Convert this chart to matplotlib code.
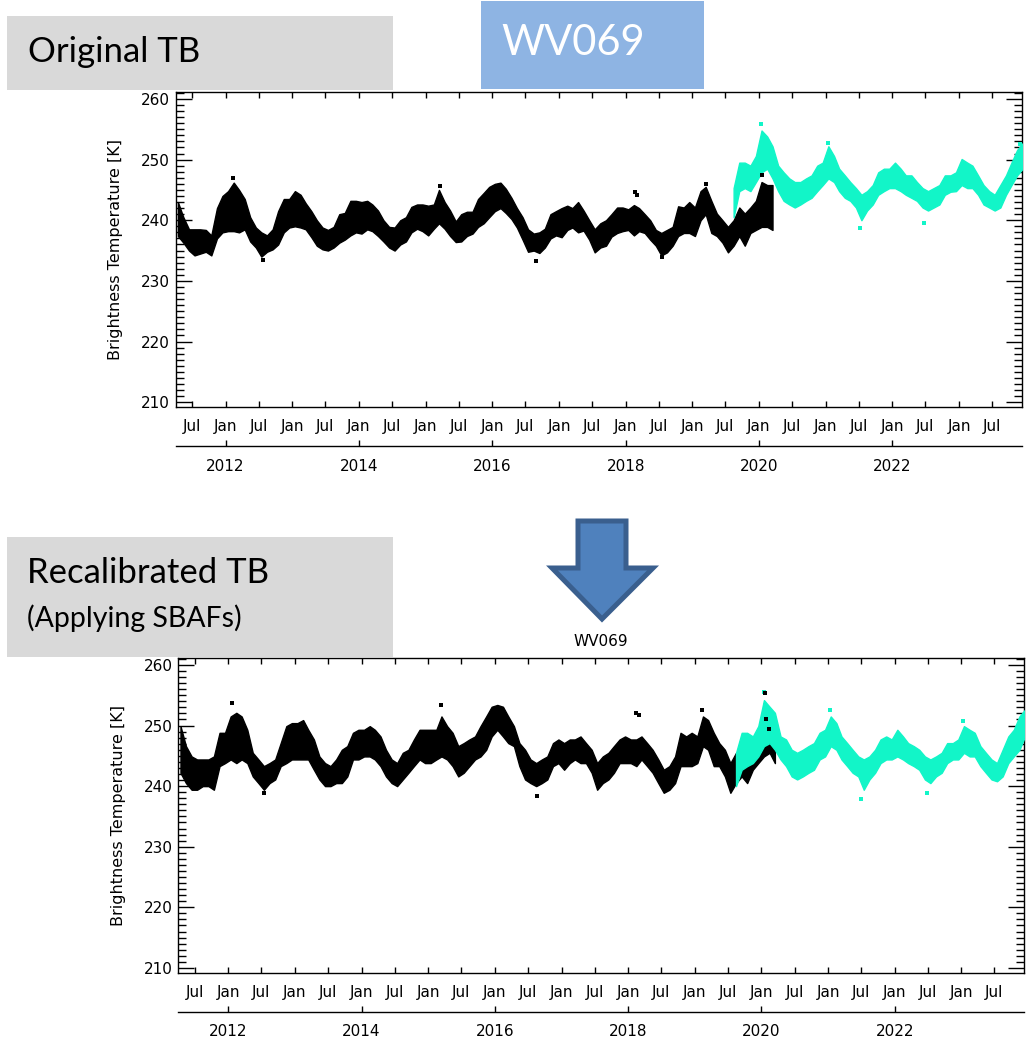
import numpy as np
import pandas as pd
import matplotlib
matplotlib.use("Agg")
import matplotlib.pyplot as plt
import matplotlib.dates as mdates
from matplotlib.patches import Rectangle, Polygon
from matplotlib.ticker import MultipleLocator, NullLocator

W, H = 1033, 1040

# monthly lower / upper edge of the daily point cloud (K)
# black series starts Apr 2011, cyan series starts Aug 2019
top_black_lo = [
    237.4, 236.3, 235.0, 234.2, 234.5, 234.8, 234.2, 237.0, 238.0,
    238.2, 238.2, 238.0, 238.5, 236.5, 235.5, 234.0, 234.8, 235.2, 236.0, 238.0, 238.8,
    239.0, 238.8, 238.5, 237.2, 235.8, 235.2, 235.0, 235.5, 236.3, 236.8, 237.5, 238.0,
    237.8, 238.5, 238.2, 237.4, 236.5, 235.5, 235.0, 236.0, 236.5, 238.0, 238.6, 238.2,
    237.5, 238.6, 239.5, 238.6, 237.4, 236.4, 236.5, 237.4, 237.8, 238.9, 239.5, 240.5,
    241.5, 242.0, 241.2, 240.2, 238.8, 236.8, 234.8, 235.0, 234.6, 235.5, 237.0, 237.5,
    237.2, 238.4, 238.8, 238.0, 238.3, 236.8, 234.7, 235.5, 235.8, 237.3, 237.9, 238.2,
    238.4, 237.5, 238.2, 237.9, 236.8, 235.8, 234.2, 234.7, 235.8, 237.4, 237.9, 237.9,
    237.4, 240.0, 241.0, 237.9, 237.4, 236.3, 234.7, 235.8, 237.4, 235.8, 237.9, 238.4,
    238.9, 238.9, 238.4,
]
top_black_hi = [
    243.0, 240.5, 238.5, 238.5, 238.5, 238.4, 237.5, 242.0, 244.0,
    244.8, 246.2, 245.0, 243.5, 240.5, 238.8, 238.0, 237.5, 238.5, 241.5, 243.5, 243.5,
    244.8, 244.2, 242.8, 241.5, 240.0, 238.8, 238.4, 238.9, 241.0, 241.2, 243.2, 243.2,
    243.0, 243.2, 242.6, 241.6, 240.0, 238.9, 238.8, 240.0, 240.5, 242.2, 242.6, 242.6,
    242.4, 242.6, 245.0, 243.0, 241.6, 239.8, 241.0, 241.4, 241.4, 243.5, 244.5, 245.5,
    246.0, 246.2, 245.2, 243.7, 242.0, 240.5, 238.5, 237.8, 238.0, 238.6, 241.0, 241.5,
    242.0, 242.4, 242.0, 243.0, 241.6, 240.0, 238.5, 239.5, 240.0, 241.0, 242.1, 242.1,
    241.8, 242.5, 242.0, 241.0, 240.0, 238.4, 237.9, 238.4, 238.9, 242.3, 242.1, 243.0,
    242.1, 244.8, 245.5, 243.2, 241.1, 240.0, 238.9, 240.0, 242.1, 241.1, 242.1, 243.2,
    246.3, 245.8, 245.8,
]
top_cyan_lo = [
    240.5, 244.8, 245.3, 244.8, 246.3,
    247.9, 248.5, 246.9, 244.8, 243.2, 242.6, 242.1, 242.6, 243.2, 243.7, 244.8, 245.8,
    246.9, 246.3, 244.8, 243.7, 243.2, 242.1, 240.0, 241.6, 242.6, 244.2, 244.8, 245.3,
    245.3, 244.8, 244.2, 243.7, 243.2, 242.1, 241.6, 242.1, 242.6, 244.2, 244.7, 244.8,
    245.8, 245.3, 245.3, 244.2, 242.6, 242.1, 241.6, 242.1, 244.2, 245.8, 247.4, 248.5,
]
top_cyan_hi = [
    245.3, 249.5, 249.5, 249.0, 250.6,
    254.8, 253.8, 252.2, 249.0, 247.9, 246.9, 246.3, 246.3, 246.9, 247.4, 249.0, 249.5,
    252.2, 250.6, 248.5, 247.4, 246.3, 245.3, 244.2, 244.8, 245.8, 247.9, 248.5, 248.5,
    249.5, 248.5, 247.4, 247.4, 246.3, 245.3, 244.8, 245.3, 245.8, 247.4, 247.4, 247.9,
    250.1, 249.5, 249.0, 247.4, 245.8, 244.8, 244.2, 245.8, 247.4, 249.5, 251.6, 252.7,
]

bot_black_lo = [
    242.2, 240.5, 239.4, 239.4, 240.0, 240.0, 239.4, 243.3, 243.8,
    244.4, 243.8, 244.4, 243.8, 241.6, 240.5, 239.4, 240.5, 241.1, 243.3, 243.8, 244.4,
    244.4, 244.4, 244.4, 242.7, 241.1, 240.0, 240.0, 240.5, 240.5, 241.6, 244.4, 244.4,
    244.9, 244.9, 244.4, 243.3, 241.6, 240.5, 240.0, 241.1, 242.2, 243.3, 244.4, 243.8,
    243.8, 244.4, 244.9, 244.4, 243.3, 241.6, 242.2, 243.3, 244.4, 244.9, 246.0, 248.2,
    249.3, 248.2, 247.1, 246.6, 243.3, 241.1, 240.5, 240.0, 240.5, 241.1, 243.3, 243.8,
    242.7, 243.8, 244.4, 243.8, 243.8, 242.2, 239.4, 240.5, 241.1, 242.2, 243.8, 243.8,
    243.8, 243.3, 244.4, 243.3, 242.2, 240.5, 238.9, 239.4, 240.5, 243.3, 243.3, 243.3,
    243.8, 246.6, 246.0, 243.3, 243.3, 241.6, 238.9, 240.5, 241.6, 240.5, 242.7, 243.8,
    244.9, 245.5, 243.8,
]
bot_black_hi = [
    249.9, 246.6, 244.9, 244.4, 244.4, 244.4, 244.9, 248.8, 248.8,
    251.5, 252.1, 251.5, 249.3, 245.5, 244.4, 243.3, 243.8, 244.4, 247.1, 249.9, 250.4,
    250.4, 250.9, 249.3, 247.7, 244.9, 243.8, 243.3, 244.4, 246.0, 246.6, 248.8, 249.3,
    249.3, 249.9, 249.3, 248.2, 246.0, 244.4, 243.8, 245.5, 246.0, 247.7, 249.3, 249.3,
    249.3, 249.3, 251.5, 249.9, 248.8, 246.6, 247.1, 247.7, 248.2, 249.9, 251.5, 253.1,
    253.4, 253.1, 251.5, 249.9, 247.1, 246.0, 244.4, 243.8, 244.4, 244.9, 247.1, 247.7,
    247.1, 247.7, 247.7, 248.2, 247.1, 246.0, 243.8, 244.9, 245.5, 246.6, 247.7, 248.2,
    247.7, 247.7, 248.2, 247.1, 246.0, 244.4, 242.7, 243.3, 244.9, 248.8, 248.2, 248.8,
    248.2, 251.5, 250.9, 248.8, 247.1, 246.0, 243.8, 245.5, 246.0, 246.0, 246.6, 247.7,
    253.7, 252.6, 251.5,
]
bot_cyan_lo = [
    240.0, 242.7, 243.3, 243.8, 244.9,
    246.6, 247.1, 246.0, 244.4, 243.3, 241.6, 241.1, 241.6, 242.2, 242.7, 244.4, 244.9,
    246.6, 246.0, 244.4, 243.3, 242.2, 241.6, 239.4, 241.1, 242.2, 243.8, 244.4, 244.4,
    244.9, 244.4, 243.8, 243.3, 242.7, 241.1, 240.5, 241.6, 242.2, 243.8, 244.4, 244.4,
    245.5, 244.9, 244.9, 243.3, 242.2, 241.1, 240.8, 241.6, 243.8, 244.9, 246.0, 248.2,
]
bot_cyan_hi = [
    245.5, 248.8, 248.8, 248.2, 249.9,
    254.2, 253.1, 252.1, 248.2, 247.7, 246.0, 245.5, 246.0, 246.6, 247.1, 248.8, 249.3,
    251.5, 250.4, 248.2, 247.1, 246.0, 244.9, 244.4, 244.9, 246.0, 247.7, 248.2, 247.7,
    249.3, 248.2, 247.1, 246.6, 246.0, 244.9, 244.4, 244.9, 245.5, 247.1, 247.1, 247.7,
    249.9, 249.3, 248.8, 246.6, 245.5, 244.4, 243.8, 246.0, 248.2, 249.3, 251.5, 252.6,
]

# isolated points sticking out of the band
top_black_spike_dates = ["2012-02-10", "2012-07-25", "2015-03-20", "2016-08-25",
                         "2018-02-20", "2018-03-05", "2018-07-20", "2019-03-15", "2020-01-20"]
top_black_spike_vals = [246.9, 233.5, 245.6, 233.2, 244.7, 244.2, 233.9, 246.0, 247.5]
top_cyan_spike_dates = ["2020-01-10", "2021-01-15", "2021-07-05", "2022-06-25", "2023-12-01"]
top_cyan_spike_vals = [255.9, 252.7, 238.7, 239.5, 252.5]
bot_black_spike_dates = ["2012-01-20", "2012-07-15", "2015-03-15", "2016-08-20",
                         "2018-02-15", "2018-03-01", "2019-02-10", "2020-01-20",
                         "2020-01-28", "2020-02-10"]
bot_black_spike_vals = [253.7, 238.9, 253.4, 238.3, 252.1, 251.8, 252.6, 255.3, 251.0, 249.5]
bot_cyan_spike_dates = ["2020-01-15", "2021-01-10", "2021-07-01", "2022-06-25", "2023-01-10"]
bot_cyan_spike_vals = [255.6, 252.6, 237.8, 238.9, 250.7]

year_ticks = ["2012", "2014", "2016", "2018", "2020", "2022"]

BLACK = "black"
CYAN = "#12f5c8"


def months(start, n):
    return pd.date_range(start, periods=n, freq="MS") + pd.Timedelta(days=14)


def draw_panel(ax, b_lo, b_hi, c_lo, c_hi, b_sd, b_sv, c_sd, c_sv):
    bx = months("2011-04-01", len(b_lo))
    cx = months("2019-08-01", len(c_lo))
    ax.fill_between(bx, b_lo, b_hi, color=BLACK, linewidth=1.0, zorder=2)
    ax.fill_between(cx, c_lo, c_hi, color=CYAN, linewidth=1.0, zorder=3)
    ax.scatter(pd.to_datetime(c_sd), c_sv, s=6, marker="s", color=CYAN, linewidths=0, zorder=4)
    ax.scatter(pd.to_datetime(b_sd), b_sv, s=6, marker="s", color=BLACK, linewidths=0, zorder=5)

    ax.set_xlim(pd.Timestamp("2011-04-03"), pd.Timestamp("2023-12-10"))
    ax.set_ylim(209.2, 261.1)
    ax.yaxis.set_major_locator(MultipleLocator(10))
    ax.yaxis.set_minor_locator(MultipleLocator(1))
    ax.tick_params(axis="y", which="major", direction="in", length=11.5, width=1,
                   right=True, labelsize=11, pad=4)
    ax.tick_params(axis="y", which="minor", direction="in", length=5.8, width=1, right=True)
    ax.xaxis.set_major_locator(mdates.MonthLocator(bymonth=[1, 7]))
    ax.xaxis.set_major_formatter(mdates.DateFormatter("%b"))
    ax.xaxis.set_minor_locator(NullLocator())
    ax.tick_params(axis="x", direction="in", length=4.3, width=1, top=True,
                   labelsize=11, pad=9)
    for s in ax.spines.values():
        s.set_linewidth(1.0)
    ax.set_ylabel("Brightness Temperature [K]", fontsize=11.5)
    ax.yaxis.set_label_coords(-0.062, 0.5)

    sec = ax.secondary_xaxis(-0.124)
    sec.set_xticks([mdates.date2num(pd.Timestamp(y + "-01-01")) for y in year_ticks],
                   labels=year_ticks)
    sec.xaxis.set_minor_locator(NullLocator())
    sec.tick_params(axis="x", direction="in", length=4.3, width=1, labelsize=11, pad=9)
    sec.spines["bottom"].set_linewidth(1.0)


fig = plt.figure(figsize=(W / 100, H / 100), dpi=100)


def px_axes(left, top, right, bottom):
    return fig.add_axes([left / W, 1 - bottom / H, (right - left) / W, (bottom - top) / H])


ax1 = px_axes(175.7, 92.3, 1021.7, 407.0)
draw_panel(ax1, top_black_lo, top_black_hi, top_cyan_lo, top_cyan_hi,
           top_black_spike_dates, top_black_spike_vals, top_cyan_spike_dates, top_cyan_spike_vals)

ax2 = px_axes(178.3, 658.3, 1024.0, 972.7)
draw_panel(ax2, bot_black_lo, bot_black_hi, bot_cyan_lo, bot_cyan_hi,
           bot_black_spike_dates, bot_black_spike_vals, bot_cyan_spike_dates, bot_cyan_spike_vals)


def px_rect(x0, y0, x1, y1, color):
    fig.add_artist(Rectangle((x0 / W, 1 - y1 / H), (x1 - x0) / W, (y1 - y0) / H,
                             transform=fig.transFigure, facecolor=color, edgecolor="none",
                             zorder=0))


px_rect(7, 16, 393, 90, "#d9d9d9")
fig.text(28 / W, 1 - 62 / H, "Original TB", fontsize=25, family="Lato", va="baseline")
px_rect(481, 1, 704, 89, "#8eb4e3")
fig.text(501 / W, 1 - 55 / H, "WV069", fontsize=30, family="Lato", va="baseline", color="white")

px_rect(7, 537, 393, 657, "#d9d9d9")
fig.text(27 / W, 1 - 583 / H, "Recalibrated TB", fontsize=25, family="Lato", va="baseline")
fig.text(27 / W, 1 - 627 / H, "(Applying SBAFs)", fontsize=20.5, family="Lato", va="baseline")

arrow_px = [(578, 521), (626, 521), (626, 568), (653, 568), (602, 619), (552, 568), (578, 568)]
fig.add_artist(Polygon([(x / W, 1 - y / H) for x, y in arrow_px], closed=True,
                       transform=fig.transFigure, facecolor="#4f81bd", edgecolor="#3a5f8e",
                       linewidth=3.6, joinstyle="miter"))
fig.text(601 / W, 1 - 642 / H, "WV069", fontsize=11, ha="center", va="center")

fig.savefig("out.png", dpi=100)
